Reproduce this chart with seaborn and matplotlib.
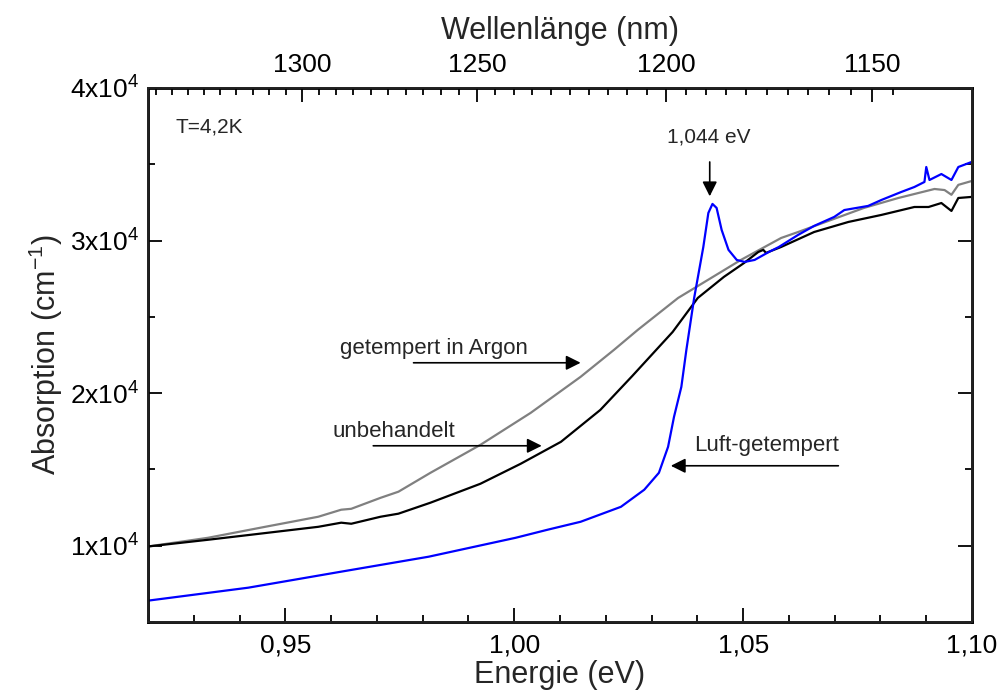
import numpy as np
import pandas as pd
import matplotlib
matplotlib.use("Agg")
import matplotlib.pyplot as plt
from matplotlib.ticker import MultipleLocator, FixedLocator, FuncFormatter, FixedFormatter
import seaborn as sns

# ---------------- data ----------------
energy_black = [0.9200, 0.9331, 0.9425, 0.9572, 0.9622, 0.9644, 0.9708, 0.9747, 0.9817,
                0.9926, 1.0014, 1.0102, 1.0188, 1.0258, 1.0346, 1.0401, 1.0458, 1.0502,
                1.0533, 1.0544, 1.0550, 1.0583, 1.0655, 1.0730, 1.0802, 1.0874, 1.0905,
                1.0933, 1.0955, 1.0970, 1.0999]
absorp_black = [9950, 10390, 10720, 11240, 11510, 11440, 11900, 12100, 12820,
                14060, 15370, 16810, 18900, 21130, 24010, 26240, 27620, 28530,
                29250, 29390, 29190, 29580, 30560, 31220, 31680, 32200, 32200,
                32460, 31940, 32790, 32860]

energy_gray = [0.9200, 0.9331, 0.9456, 0.9572, 0.9622, 0.9644, 0.9708, 0.9747, 0.9817,
               0.9926, 1.0036, 1.0145, 1.0218, 1.0270, 1.0358, 1.0423, 1.0495, 1.0583,
               1.0620, 1.0692, 1.0764, 1.0839, 1.0918, 1.0940, 1.0955, 1.0970, 1.0999]
absorp_gray = [9950, 10520, 11240, 11900, 12360, 12420, 13140, 13540, 14780,
               16610, 18710, 21070, 22840, 24150, 26240, 27420, 28730, 30170,
               30560, 31350, 32140, 32790, 33380, 33310, 33000, 33650, 33900]

energy_blue = [0.9200, 0.9419, 0.9622, 0.9813, 1.0003, 1.0073, 1.0145, 1.0233, 1.0284,
               1.0316, 1.0336, 1.0349, 1.0365, 1.0376, 1.0393, 1.0413, 1.0424, 1.0433,
               1.0442, 1.0453, 1.0468, 1.0486, 1.0503, 1.0525, 1.0556, 1.0578, 1.0620,
               1.0655, 1.0699, 1.0721, 1.0773, 1.0802, 1.0845, 1.0874, 1.0896, 1.0900,
               1.0907, 1.0933, 1.0955, 1.0970, 1.0999]
absorp_blue = [6400, 7250, 8300, 9280, 10520, 11050, 11570, 12550, 13670,
               14780, 16480, 18450, 20410, 22840, 26240, 29580, 31810, 32400,
               32140, 30700, 29390, 28730, 28600, 28730, 29250, 29580, 30370,
               30960, 31550, 32000, 32270, 32660, 33180, 33510, 33840, 34820,
               33970, 34360, 33970, 34820, 35150]

wavelength_ticks = [1300, 1250, 1200, 1150]
wavelength_minor = list(range(1145, 1350, 5))
y_major_ticks = [10000, 20000, 30000, 40000]

# ---------------- style ----------------
sns.set_theme(style="ticks")
plt.rcParams['font.family'] = ['Liberation Sans', 'DejaVu Sans']
plt.rcParams['mathtext.fontset'] = 'custom'
plt.rcParams['mathtext.rm'] = 'Liberation Sans'
plt.rcParams['mathtext.it'] = 'Liberation Sans'
plt.rcParams['mathtext.default'] = 'regular'

fig = plt.figure(figsize=(9.98, 6.96), dpi=100)
ax = fig.add_axes([0.1483, 0.1063, 0.974 - 0.1483, 0.8736 - 0.1063])

df_b = pd.DataFrame({"E": energy_black, "A": absorp_black})
df_g = pd.DataFrame({"E": energy_gray, "A": absorp_gray})
df_l = pd.DataFrame({"E": energy_blue, "A": absorp_blue})

sns.lineplot(data=df_g, x="E", y="A", color="#808080", lw=1.6, ax=ax, legend=False)
sns.lineplot(data=df_b, x="E", y="A", color="black", lw=1.6, ax=ax, legend=False)
sns.lineplot(data=df_l, x="E", y="A", color="#0000FF", lw=1.6, ax=ax, legend=False)

xmin, xmax = 0.92, 1.10
ax.set_xlim(xmin, xmax)
ax.set_ylim(5000, 40000)

ax.xaxis.set_major_locator(FixedLocator([0.95, 1.00, 1.05, 1.10]))
ax.xaxis.set_minor_locator(MultipleLocator(0.01))
ax.xaxis.set_major_formatter(FuncFormatter(lambda v, p: f"{v:.2f}".replace('.', ',')))
ax.yaxis.set_major_locator(FixedLocator(y_major_ticks))
ax.yaxis.set_minor_locator(MultipleLocator(5000))
ax.yaxis.set_major_formatter(FuncFormatter(lambda v, p: f"{int(round(v/1e4))}x10$^{{4}}$"))

ax.tick_params(which='both', direction='in', top=False, right=True, width=1.3, labelsize=19, colors='black')
ax.tick_params(which='major', length=10)
ax.tick_params(which='minor', length=5)
ax.tick_params(axis='x', pad=8)
ax.tick_params(axis='y', pad=6)
for s in ax.spines.values():
    s.set_linewidth(2)
    s.set_color('black')

ax.set_xlabel("Energie (eV)", fontsize=22, labelpad=2)
ax.set_ylabel("Absorption (cm$^{-1}$)", fontsize=22, labelpad=4)

# top axis: wavelength (E = hc / lambda)
conv = 1239.84
top = ax.twiny()
top.set_xlim(xmin, xmax)
top.xaxis.set_major_locator(FixedLocator([conv / w for w in wavelength_ticks]))
top.xaxis.set_major_formatter(FixedFormatter([str(w) for w in wavelength_ticks]))
top.xaxis.set_minor_locator(FixedLocator([conv / w for w in wavelength_minor
                                          if xmin <= conv / w <= xmax]))
top.xaxis.set_tick_params(which='both', top=True, bottom=False, labeltop=True, labelbottom=False,
                          direction='in', width=1.3, labelsize=19, pad=8, colors='black')
top.xaxis.set_tick_params(which='major', length=10)
top.xaxis.set_tick_params(which='minor', length=5)
top.set_xlabel("Wellenlänge (nm)", fontsize=22, labelpad=10)

# annotations
arrow_kw = dict(arrowstyle='-|>', color='black', lw=1.2, mutation_scale=22, shrinkA=0, shrinkB=0)
ax.text(0.9259, 37440, "T=4,2K", fontsize=15, ha='left', va='center')
ax.text(1.0425, 36800, "1,044 eV", fontsize=15, ha='center', va='center')
ax.annotate('', xy=(1.0427, 32900), xytext=(1.0427, 35150), arrowprops=arrow_kw)

ax.text(0.9620, 22900, "getempert in Argon", fontsize=16, ha='left', va='center')
ax.annotate('', xy=(1.0145, 21990), xytext=(0.9780, 21990), arrowprops=arrow_kw)

ax.text(0.9603, 17500, "unbehandelt", fontsize=16, ha='left', va='center')
ax.annotate('', xy=(1.0060, 16550), xytext=(0.9692, 16550), arrowprops=arrow_kw)

ax.text(1.0393, 16600, "Luft-getempert", fontsize=16, ha='left', va='center')
ax.annotate('', xy=(1.0342, 15240), xytext=(1.0708, 15240), arrowprops=arrow_kw)

fig.savefig("out.png", dpi=100)
